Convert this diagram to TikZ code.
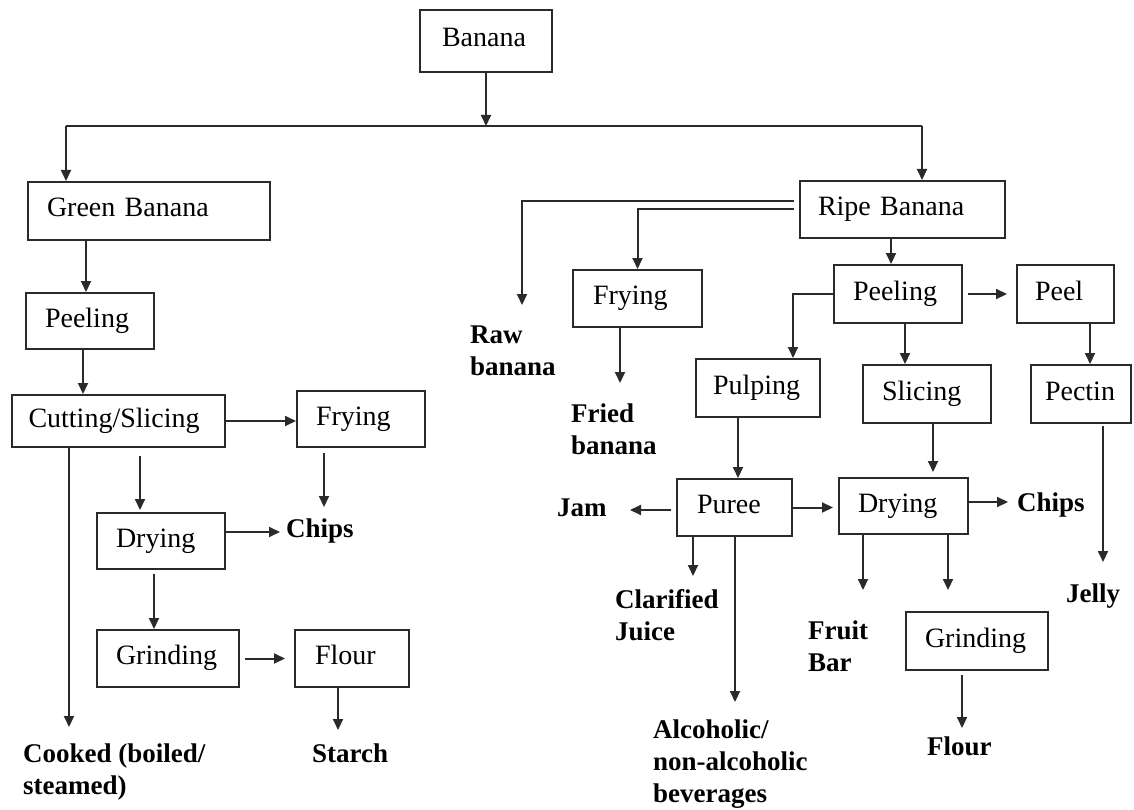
\documentclass[tikz,border=0pt]{standalone}
\usepackage{fontspec}
\setmainfont{Liberation Serif}
\usetikzlibrary{arrows.meta}
\definecolor{lc}{HTML}{2A2A2A}
\begin{document}
\begin{tikzpicture}[x=1pt,y=-1pt,
  font=\fontsize{27}{32}\selectfont,
  box/.style={draw=lc, line width=2pt, inner xsep=0pt, inner ysep=0pt, align=left, font=\fontsize{28}{32}\selectfont, text height=19pt, text depth=7pt},
  lbl/.style={inner sep=0pt, align=left, anchor=base west, font=\fontsize{27}{32}\selectfont\bfseries},
  wire/.style={draw=lc, line width=2pt},
  arr/.style={draw=lc, line width=2pt, -{Triangle[length=11pt,width=10pt]}}]
\useasboundingbox (0,0) rectangle (1134,810);

% boxes
\node[box, minimum width=132pt, minimum height=62pt, text width=88pt] (banana) at (486,41) {Banana};
\node[box, minimum width=242pt, minimum height=58pt, text width=204pt] (green) at (149,211) {Green Banana};
\node[box, minimum width=128pt, minimum height=56pt, text width=90pt] (peelL) at (90,321) {Peeling};
\node[box, minimum width=213pt, minimum height=52pt, text width=180pt] (cut) at (118.5,421) {Cutting/Slicing};
\node[box, minimum width=128pt, minimum height=56pt, text width=90pt] (fryL) at (361,419) {Frying};
\node[box, minimum width=128pt, minimum height=56pt, text width=90pt] (dryL) at (161,541) {Drying};
\node[box, minimum width=142pt, minimum height=57pt, text width=104pt] (grindL) at (168,658.5) {Grinding};
\node[box, minimum width=114pt, minimum height=57pt, text width=74pt] (flourL) at (352,658.5) {Flour};
\node[box, minimum width=205pt, minimum height=57pt, text width=169pt] (ripe) at (902.5,209.5) {Ripe Banana};
\node[box, minimum width=129pt, minimum height=57pt, text width=89pt] (fryR) at (637.5,298.5) {Frying};
\node[box, minimum width=128pt, minimum height=58pt, text width=90pt] (peelR) at (898,294) {Peeling};
\node[box, minimum width=124pt, minimum height=58pt, text width=90pt] (pulp) at (758,388) {Pulping};
\node[box, minimum width=115pt, minimum height=57pt, text width=75pt] (puree) at (734.5,507.5) {Puree};
\node[box, minimum width=128pt, minimum height=58pt, text width=90pt] (slice) at (927,394) {Slicing};
\node[box, minimum width=129pt, minimum height=56pt, text width=91pt] (dryR) at (903.5,506) {Drying};
\node[box, minimum width=142pt, minimum height=58pt, text width=104pt] (grindR) at (977,641) {Grinding};
\node[box, minimum width=97pt, minimum height=58pt, text width=61pt] (peel) at (1065.5,294) {Peel};
\node[box, minimum width=100pt, minimum height=58pt, text width=72pt] (pectin) at (1081,394) {Pectin};

% labels (base = baseline of the last line)
\node[lbl] (chipsL) at (286,537) {Chips};
\node[lbl] (starch) at (312,762) {Starch};
\node[lbl] (cooked) at (23,794) {Cooked (boiled/\\steamed)};
\node[lbl] (raw) at (470,375) {Raw\\banana};
\node[lbl] (fried) at (571,454) {Fried\\banana};
\node[lbl] (jam) at (557,516) {Jam};
\node[lbl] (clar) at (615,640) {Clarified\\Juice};
\node[lbl] (alc) at (653,802) {Alcoholic/\\non-alcoholic\\beverages};
\node[lbl] (chipsR) at (1017,511) {Chips};
\node[lbl] (fruit) at (808,671) {Fruit\\Bar};
\node[lbl] (flourR) at (927,755) {Flour};
\node[lbl] (jelly) at (1066,602) {Jelly};

% top split
\coordinate (hl) at (66,126);
\coordinate (hr) at (922,126);
\draw[wire] (hl) -- (hr);
\draw[arr] (banana.south) -- (banana.south |- hl);
\draw[arr] (hl) -- (hl |- green.north);
\draw[arr] (hr) -- (hr |- ripe.north);

% left branch
\coordinate (a1) at (86,0);
\draw[arr] (a1 |- green.south) -- (a1 |- peelL.north);
\coordinate (a2) at (83,0);
\draw[arr] (a2 |- peelL.south) -- (a2 |- cut.north);
\draw[arr] (cut.east) -- (cut.east -| fryL.west);
\coordinate (chipsLtip) at (324,507);
\draw[arr, shorten <=5pt] (chipsLtip |- fryL.south) -- (chipsLtip);
\coordinate (x140) at (140,510);
\draw[arr, shorten <=8pt] (x140 |- cut.south) -- (x140);
\coordinate (cookedtip) at (69,727);
\draw[arr] (cookedtip |- cut.south) -- (cookedtip);
\coordinate (chipsLin) at (280,532);
\draw[arr] (chipsLin -| dryL.east) -- (chipsLin);
\coordinate (x154) at (154,0);
\draw[arr, shorten <=4pt] (x154 |- dryL.south) -- (x154 |- grindL.north);
\draw[arr, shorten <=5pt, shorten >=9pt] (grindL.east) -- (flourL.west);
\coordinate (starchtip) at (338,730);
\draw[arr] (starchtip |- flourL.south) -- (starchtip);

% right branch
\coordinate (rawtip) at (522,305);
\draw[arr] ([xshift=-5pt,yshift=8.5pt]ripe.west) -| (rawtip);
\draw[arr] ([xshift=-5pt]ripe.west) -| (fryR.north);
\coordinate (friedtip) at (620,383);
\draw[arr] (friedtip |- fryR.south) -- (friedtip);
\coordinate (x891) at (891,0);
\draw[arr] (x891 |- ripe.south) -- (x891 |- peelR.north);
\coordinate (x793) at (793,0);
\draw[arr] (peelR.west) -| (x793 |- pulp.north);
\coordinate (x738) at (738,0);
\draw[arr] (x738 |- pulp.south) -- (x738 |- puree.north);
\coordinate (jamtip) at (630,510);
\draw[arr, shorten <=5pt] (jamtip -| puree.west) -- (jamtip);
\draw[arr, shorten >=5pt] (puree.east) -- (puree.east -| dryR.west);
\coordinate (clartip) at (693,576);
\draw[arr] (clartip |- puree.south) -- (clartip);
\coordinate (alctip) at (735,702);
\draw[arr] (alctip |- puree.south) -- (alctip);
\coordinate (x905) at (905,0);
\draw[arr] (x905 |- peelR.south) -- (x905 |- slice.north);
\draw[arr, shorten <=5pt, shorten >=9pt] (peelR.east) -- (peel.west);
\coordinate (x1090) at (1090,0);
\draw[arr] (x1090 |- peel.south) -- (x1090 |- pectin.north);
\coordinate (jellytip) at (1103,562);
\draw[arr, shorten <=2pt] (jellytip |- pectin.south) -- (jellytip);
\coordinate (x933) at (933,472);
\draw[arr] (x933 |- slice.south) -- (x933);
\coordinate (chipsRin) at (1008,502);
\draw[arr] (chipsRin -| dryR.east) -- (chipsRin);
\coordinate (fruittip) at (863,590);
\draw[arr] (fruittip |- dryR.south) -- (fruittip);
\coordinate (grtip) at (948,590);
\draw[arr] (grtip |- dryR.south) -- (grtip);
\coordinate (flourRtip) at (962,728);
\draw[arr, shorten <=4pt] (flourRtip |- grindR.south) -- (flourRtip);
\end{tikzpicture}
\end{document}
